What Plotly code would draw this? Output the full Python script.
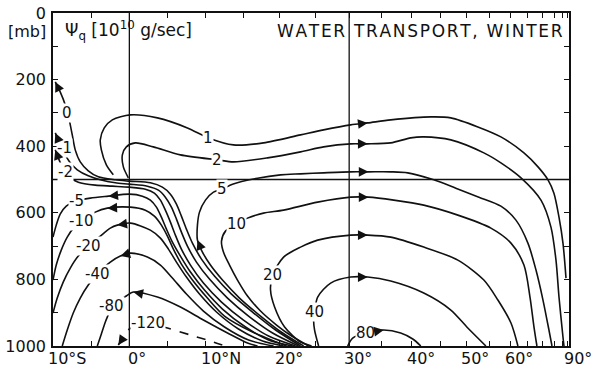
import numpy as np
import plotly.graph_objects as go

# ---------------- data (latitude in degrees, negative = S; pressure in mb) -------------
c0_lat = [-9.7, -9.05, -8.38, -8.12, -7.86, -7.46, -7.07, -6.41, -5.36, -4.05, -1.83, 0, 2.74, 4.31, 5.36, 6.15, 6.8, 7.46, 8.25, 9.44, 11.16, 13.43, 16.27, 19.43, 22.92]
c0_p = [207, 237, 276, 300, 321, 366, 411, 447, 474, 492, 501, 505, 510, 523, 544, 574, 610, 649, 691, 739, 790, 844, 898, 952, 1000]

cm1_lat = [-9.7, -9.3, -8.91, -8.38, -7.72, -6.8, -5.36, -3.79, -1.83, 0, 2.35, 3.79, 4.7, 5.49, 6.15, 6.8, 7.59, 8.78, 10.5, 12.9, 15.73, 19.01, 22.64]
cm1_p = [360, 381, 402, 426, 450, 471, 489, 501, 510, 514, 520, 532, 553, 583, 619, 658, 700, 748, 799, 856, 910, 961, 1000]

cm2_lat = [-9.7, -9.3, -8.91, -8.52, -7.86, -6.67, -4.44, -2.22, 0, 2.09, 3.26, 4.05, 4.7, 5.36, 6.01, 6.8, 7.99, 9.7, 12.1, 15.05, 18.46, 22.22]
cm2_p = [411, 435, 456, 474, 492, 508, 517, 520, 523, 529, 541, 562, 592, 628, 667, 709, 757, 811, 868, 922, 970, 1000]

cm5_lat = [-10.0, -9.57, -9.05, -8.25, -6.93, -5.1, -2.74, 0, 1.7, 2.74, 3.53, 4.18, 4.84, 5.62, 6.67, 7.99, 9.84, 12.23, 15.32, 18.46, 21.8]
cm5_p = [673, 637, 604, 580, 565, 556, 550, 544, 550, 562, 583, 613, 649, 688, 730, 778, 832, 889, 943, 982, 1000]

cm10_lat = [-10.0, -9.57, -8.91, -8.12, -7.2, -6.28, -4.44, -2.87, 0.13, 2.09, 3.26, 4.18, 4.97, 5.75, 6.8, 8.25, 10.23, 12.5, 16.27, 20.95]
cm10_p = [802, 757, 712, 673, 643, 625, 598, 586, 583, 592, 610, 637, 670, 709, 754, 802, 856, 910, 958, 1000]

cm20_lat = [-10.0, -9.44, -8.65, -7.72, -6.67, -5.36, -3.79, -2.48, -1.57, 0.13, 2.74, 4.05, 5.1, 6.15, 7.46, 9.18, 11.43, 14.37, 17.64, 20.54]
cm20_p = [901, 856, 808, 766, 730, 700, 670, 646, 637, 631, 652, 676, 709, 748, 793, 844, 898, 949, 985, 1000]

cm40_lat = [-8.78, -8.12, -7.33, -6.41, -5.36, -4.18, -2.48, -1.17, 0.13, 2.35, 4.05, 5.62, 7.46, 9.7, 12.5, 15.73, 19.15]
cm40_p = [1000, 952, 901, 856, 817, 784, 748, 730, 721, 733, 757, 796, 844, 895, 943, 982, 1000]

cm80_lat = [-4.18, -3.65, -3.13, -2.61, -2.35, -0.39, 0.52, 3.66, 6.67, 9.7, 12.9, 15.59, 16.95]
cm80_p = [1000, 964, 928, 898, 880, 850, 838, 853, 883, 922, 961, 991, 1000]

cm120_lat = [-1.44, -0.65, 0, 2.48, 4.97, 7.99, 11.03, 12.63]
cm120_p = [997, 970, 949, 931, 946, 967, 988, 1000]

c1_lat = [-2.09, -3.0, -3.65, -3.79, -3.27, -2.22, 0.13, 3.66, 7.59, 10.37, 13.7, 17.77, 22.92, 26.22, 30.23, 32.83, 36.48, 43.29, 46.99, 52.44, 57.68, 63.83, 68.36, 72.21, 74.96, 77.75, 80.5, 83.3]
c1_p = [486, 456, 411, 381, 345, 321, 306, 315, 345, 375, 396, 390, 366, 351, 336, 330, 321, 312, 315, 342, 372, 420, 462, 501, 541, 613, 691, 796]

c2_lat = [-0.13, -0.78, -0.91, -0.39, 0.78, 3.13, 6.67, 11.56, 13.7, 18.32, 22.92, 26.22, 30.23, 32.83, 36.48, 39.8, 42.04, 46.99, 53.74, 57.68, 62.97, 69.43, 73.53, 76.02, 77.75, 80.5, 81.33]
c2_p = [495, 462, 426, 402, 390, 402, 426, 441, 447, 435, 417, 402, 393, 393, 390, 375, 372, 381, 420, 450, 495, 562, 643, 742, 853, 973, 1000]

c5_lat = [23.35, 20.4, 17.36, 14.51, 12.23, 10.63, 9.57, 8.91, 8.91, 9.18, 9.97, 11.03, 12.23, 13.57, 16.95, 20.12, 22.92, 26.22, 30.23, 32.96, 36.48, 39.29, 43.83, 47.95, 52.66, 57.68, 61.56, 65.03, 67.66, 70.19, 72.63, 74.0]
c5_p = [1000, 961, 910, 856, 802, 757, 718, 682, 637, 598, 562, 538, 529, 514, 496, 486, 483, 480, 477, 477, 477, 480, 501, 526, 553, 580, 622, 691, 772, 862, 952, 1000]

c10_lat = [24.06, 21.66, 19.56, 17.36, 15.59, 14.24, 13.17, 12.36, 12.1, 12.63, 14.1, 15.59, 17.77, 20.54, 25.36, 30.23, 32.96, 36.97, 42.04, 48.35, 55.32, 60.23, 63.83, 65.68, 66.98, 67.98]
c10_p = [1000, 970, 937, 895, 850, 802, 757, 718, 685, 655, 634, 616, 601, 592, 568, 553, 553, 562, 577, 607, 646, 691, 757, 853, 943, 1000]

c20_lat = [24.49, 22.92, 20.68, 19.29, 18.73, 19.01, 20.54, 22.92, 25.36, 30.23, 32.83, 36.48, 42.04, 48.35, 53.74, 56.96, 60.23, 62.11]
c20_p = [1000, 988, 943, 883, 832, 787, 733, 703, 682, 667, 667, 673, 703, 742, 802, 862, 931, 1000]

c40_lat = [25.5, 24.92, 24.78, 24.92, 25.36, 27.25, 30.23, 32.83, 36.48, 42.04, 46.99, 50.34, 54.19]
c40_p = [1000, 952, 922, 898, 853, 811, 793, 793, 805, 841, 892, 946, 1000]

c80_lat = [29.77, 30.53, 32.52, 35.35, 38.11, 40.14, 41.52]
c80_p = [1000, 976, 961, 952, 961, 979, 1000]

# contour value labels: text, latitude, pressure
label_text = ["0", "-1", "-2", "-5", "-10", "-20", "-40", "-80", "-120", "1", "2", "5", "10", "20", "40", "80"]
label_lat = [-8.12, -8.5, -8.4, -6.93, -6.28, -5.36, -4.18, -2.35, 2.48, 10.37, 11.56, 12.23, 14.1, 19.01, 24.92, 32.52]
label_p = [300, 404, 476, 565, 625, 700, 784, 880, 931, 375, 441, 529, 634, 787, 898, 961]

# x-axis tick latitudes and labels
tick_lats = list(range(-10, 91, 5))
label_lats = [-10, 0, 10, 20, 30, 40, 50, 60, 90]
label_names = ["10°S", "0°", "10°N", "20°", "30°", "40°", "50°", "60°", "90°"]
y_ticks = [0, 200, 400, 600, 800, 1000]
y_labels = ["0", "200", "400", "600", "800", "1000"]

ref_lats = [0, 30]
ref_p = 500

# ---------------- figure -------------
def sx(lat):
    return np.sin(np.radians(np.asarray(lat, dtype=float)))

contours = [
    (c0_lat, c0_p, "solid", [(0, 1)]),
    (cm1_lat, cm1_p, "solid", [(0, 1)]),
    (cm2_lat, cm2_p, "solid", [(0, 1)]),
    (cm5_lat, cm5_p, "solid", [(6, 7)]),
    (cm10_lat, cm10_p, "solid", [(7, 8)]),
    (cm20_lat, cm20_p, "solid", [(8, 9)]),
    (cm40_lat, cm40_p, "solid", [(7, 8)]),
    (cm80_lat, cm80_p, "solid", [(6, 7)]),
    (cm120_lat, cm120_p, "dash", [(0, 1)]),
    (c1_lat, c1_p, "solid", [(15, 14)]),
    (c2_lat, c2_p, "solid", [(13, 12)]),
    (c5_lat, c5_p, "solid", [(7, 6), (19, 18)]),
    (c10_lat, c10_p, "solid", [(16, 15)]),
    (c20_lat, c20_p, "solid", [(10, 9)]),
    (c40_lat, c40_p, "solid", [(7, 6)]),
    (c80_lat, c80_p, "solid", [(3, 2)]),
]

INK = "#111111"
FONT = "DejaVu Sans"
PX_PER_X = 516 / (1 - float(sx(-10)))   # approx. pixels per unit of sin(latitude)
PX_PER_P = 333 / 1000.0                 # approx. pixels per mb
SHAFT_PX = 9.0

fig = go.Figure()
annotations = []

# contour labels first (white boxes), arrows drawn on top of them
for t, la, pp in zip(label_text, label_lat, label_p):
    annotations.append(dict(x=float(sx(la)), y=pp, xref="x", yref="y", text=t, showarrow=False,
                            font=dict(family=FONT, size=15, color=INK), bgcolor="white", borderpad=0))

for lat, p, dash, arrows in contours:
    xs = sx(lat)
    fig.add_trace(go.Scatter(x=xs, y=p, mode="lines",
                             line=dict(color=INK, width=1.6, dash=dash, shape="spline", smoothing=0.8),
                             hoverinfo="skip", showlegend=False))
    for tip, frm in arrows:
        tx, ty = float(xs[tip]), float(p[tip])
        fx, fy = float(xs[frm]), float(p[frm])
        dist = np.hypot((fx - tx) * PX_PER_X, (fy - ty) * PX_PER_P)
        f = SHAFT_PX / dist
        annotations.append(dict(x=tx, y=ty, ax=tx + f * (fx - tx), ay=ty + f * (fy - ty),
                                xref="x", yref="y", axref="x", ayref="y", text="",
                                showarrow=True, arrowhead=2, arrowsize=1.3, arrowwidth=1.5,
                                arrowcolor=INK, standoff=0))

for la, name in zip(label_lats, label_names):
    shift = -3 if name == "0°" else -7
    annotations.append(dict(x=float(sx(la)), y=0, xref="x", yref="paper", text=name, showarrow=False,
                            xanchor="left", yanchor="top", xshift=shift, yshift=-1,
                            font=dict(family=FONT, size=16, color=INK)))

annotations.append(dict(x=-0.0097, y=0.943, xref="paper", yref="paper", text="[mb]", showarrow=False,
                        xanchor="right", yanchor="middle", font=dict(family=FONT, size=16, color=INK)))
annotations.append(dict(x=0.019, y=0.946, xref="paper", yref="paper",
                        text="Ψ<sub>q</sub> [10<sup>10</sup> g/sec]", showarrow=False,
                        xanchor="left", yanchor="middle", font=dict(family=FONT, size=17, color=INK)))
title = "\u200a".join(list("WATER TRANSPORT, WINTER"))
annotations.append(dict(x=0.992, y=0.946, xref="paper", yref="paper", text=title, showarrow=False,
                        xanchor="right", yanchor="middle", font=dict(family=FONT, size=17, color=INK)))

shapes = []
for la in ref_lats:
    shapes.append(dict(type="line", xref="x", yref="paper", x0=float(sx(la)), x1=float(sx(la)), y0=0, y1=1,
                       line=dict(color=INK, width=1.3)))
shapes.append(dict(type="line", xref="paper", yref="y", x0=0, x1=1, y0=ref_p, y1=ref_p,
                   line=dict(color=INK, width=1.3)))

fig.update_layout(
    template="none",
    width=595, height=374,
    margin=dict(l=53, r=26, t=13, b=28, autoexpand=False),
    paper_bgcolor="white", plot_bgcolor="white",
    annotations=annotations, shapes=shapes,
    font=dict(family=FONT, size=16, color=INK),
)
fig.update_xaxes(range=[float(sx(-10)), 1.0], tickmode="array", tickvals=[float(v) for v in sx(tick_lats)],
                 showticklabels=False, ticks="inside", ticklen=5, tickcolor=INK, tickwidth=1.2,
                 showline=True, linecolor=INK, linewidth=1.6, mirror="ticks", showgrid=False, zeroline=False,
                 automargin=False)
fig.update_yaxes(range=[1000, 0], tickmode="array", tickvals=y_ticks, ticktext=y_labels,
                 ticks="inside", ticklen=5, tickcolor=INK, tickwidth=1.2,
                 minor=dict(ticks="inside", ticklen=5, tickcolor=INK, tickwidth=1.2, dtick=100, tick0=0),
                 showline=True, linecolor=INK, linewidth=1.6, mirror="ticks", showgrid=False, zeroline=False,
                 tickfont=dict(family=FONT, size=16, color=INK), ticklabelstandoff=2, automargin=False)

fig.write_html("out.html")
